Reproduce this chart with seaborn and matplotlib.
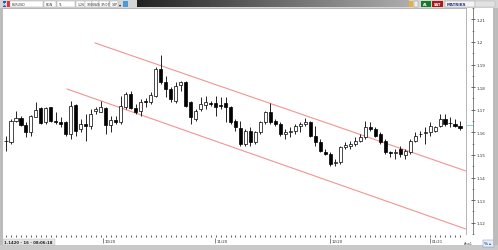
import numpy as np
import pandas as pd
import matplotlib
matplotlib.use("Agg")
import matplotlib.pyplot as plt
from matplotlib.patches import Rectangle
import seaborn as sns

# ---------------- data ----------------
opens = [1.1575, 1.1572, 1.1657, 1.1669, 1.1641, 1.1613, 1.1674, 1.1710, 1.1653, 1.1714,
         1.1658, 1.1654, 1.1653, 1.1604, 1.1722, 1.1624, 1.1645, 1.1635, 1.1699, 1.1695,
         1.1710, 1.1641, 1.1662, 1.1652, 1.1713, 1.1767, 1.1709, 1.1699, 1.1740, 1.1733,
         1.1760, 1.1869, 1.1815, 1.1787, 1.1740, 1.1805, 1.1815, 1.1733, 1.1665, 1.1706,
         1.1723, 1.1729, 1.1729, 1.1722, 1.1729, 1.1713, 1.1658, 1.1628, 1.1563, 1.1617,
         1.1570, 1.1611, 1.1652, 1.1692, 1.1658, 1.1645, 1.1604, 1.1611, 1.1617, 1.1638,
         1.1645, 1.1652, 1.1597, 1.1570, 1.1532, 1.1522, 1.1487, 1.1488, 1.1550, 1.1556,
         1.1563, 1.1576, 1.1590, 1.1631, 1.1624, 1.1604, 1.1576, 1.1530, 1.1528, 1.1543,
         1.1518, 1.1529, 1.1576, 1.1603, 1.1610, 1.1611, 1.1617, 1.1638, 1.1665, 1.1650,
         1.1645, 1.1638]
highs = [1.1596, 1.1665, 1.1698, 1.1677, 1.1653, 1.1681, 1.1735, 1.1714, 1.1714, 1.1716,
         1.1694, 1.1673, 1.1657, 1.1740, 1.1726, 1.1665, 1.1685, 1.1706, 1.1714, 1.1740,
         1.1714, 1.1678, 1.1678, 1.1760, 1.1774, 1.1780, 1.1726, 1.1747, 1.1751, 1.1776,
         1.1877, 1.1926, 1.1842, 1.1796, 1.1816, 1.1821, 1.1819, 1.1740, 1.1706, 1.1755,
         1.1760, 1.1740, 1.1760, 1.1755, 1.1755, 1.1719, 1.1665, 1.1658, 1.1624, 1.1631,
         1.1617, 1.1658, 1.1699, 1.1730, 1.1665, 1.1652, 1.1624, 1.1631, 1.1645, 1.1652,
         1.1669, 1.1658, 1.1638, 1.1583, 1.1543, 1.1529, 1.1502, 1.1556, 1.1570, 1.1576,
         1.1590, 1.1604, 1.1658, 1.1652, 1.1631, 1.1611, 1.1583, 1.1536, 1.1543, 1.1556,
         1.1543, 1.1583, 1.1611, 1.1617, 1.1631, 1.1652, 1.1638, 1.1685, 1.1685, 1.1672,
         1.1665, 1.1657]
lows = [1.1534, 1.1563, 1.1653, 1.1636, 1.1592, 1.1596, 1.1673, 1.1645, 1.1645, 1.1653,
        1.1645, 1.1632, 1.1596, 1.1583, 1.1597, 1.1612, 1.1576, 1.1624, 1.1685, 1.1692,
        1.1604, 1.1612, 1.1645, 1.1645, 1.1706, 1.1706, 1.1685, 1.1678, 1.1714, 1.1726,
        1.1755, 1.1808, 1.1754, 1.1735, 1.1730, 1.1780, 1.1713, 1.1645, 1.1658, 1.1698,
        1.1706, 1.1719, 1.1678, 1.1706, 1.1652, 1.1645, 1.1617, 1.1556, 1.1556, 1.1556,
        1.1563, 1.1604, 1.1645, 1.1645, 1.1638, 1.1597, 1.1583, 1.1590, 1.1604, 1.1611,
        1.1638, 1.1590, 1.1556, 1.1529, 1.1518, 1.1474, 1.1474, 1.1481, 1.1543, 1.1543,
        1.1556, 1.1570, 1.1583, 1.1617, 1.1590, 1.1563, 1.1522, 1.1509, 1.1502, 1.1509,
        1.1502, 1.1522, 1.1570, 1.1590, 1.1563, 1.1597, 1.1611, 1.1631, 1.1638, 1.1631,
        1.1631, 1.1620]
closes = [1.1577, 1.1658, 1.1669, 1.1641, 1.1613, 1.1677, 1.1702, 1.1649, 1.1710, 1.1657,
          1.1652, 1.1645, 1.1604, 1.1719, 1.1617, 1.1645, 1.1638, 1.1685, 1.1706, 1.1714,
          1.1641, 1.1662, 1.1652, 1.1719, 1.1767, 1.1709, 1.1695, 1.1736, 1.1733, 1.1763,
          1.1869, 1.1815, 1.1787, 1.1747, 1.1801, 1.1815, 1.1719, 1.1672, 1.1699, 1.1726,
          1.1733, 1.1726, 1.1715, 1.1718, 1.1713, 1.1652, 1.1631, 1.1563, 1.1617, 1.1570,
          1.1611, 1.1652, 1.1692, 1.1652, 1.1645, 1.1604, 1.1613, 1.1617, 1.1635, 1.1645,
          1.1652, 1.1597, 1.1570, 1.1536, 1.1522, 1.1481, 1.1490, 1.1550, 1.1559, 1.1563,
          1.1576, 1.1590, 1.1631, 1.1624, 1.1597, 1.1570, 1.1529, 1.1526, 1.1530, 1.1522,
          1.1534, 1.1576, 1.1597, 1.1605, 1.1612, 1.1638, 1.1631, 1.1665, 1.1645, 1.1647,
          1.1638, 1.1627]

price_ticks = [1.21, 1.20, 1.19, 1.18, 1.17, 1.16, 1.15, 1.14, 1.13, 1.12]
price_labels = ["1.21", "1.2", "1.19", "1.18", "1.17", "1.16", "1.15", "1.14", "1.13", "1.12"]
date_label_idx = [19.4, 41.9, 64.9, 85.0]
date_labels = ["10/20", "11/20", "12/20", "01/21"]

upper_channel_x = [17.8, 92.2]
upper_channel_y = [1.1976, 1.1453]
lower_channel_x = [12.2, 92.2]
lower_channel_y = [1.1788, 1.1216]
last_price = 1.1631

# ---------------- figure ----------------
sns.set_style("white")
plt.rcParams['font.family'] = ['DejaVu Sans']
W, H = 498, 251
fig = plt.figure(figsize=(W / 100, H / 100), dpi=100)
fig.patch.set_facecolor('#c9c9c9')


def rect(x0, y0, x1, y1, z=4, **kw):
    fig.patches.append(Rectangle((x0 / W, 1 - y1 / H), (x1 - x0) / W, (y1 - y0) / H,
                                 transform=fig.transFigure, zorder=z, **kw))


def ftext(x, y, s, **kw):
    fig.text(x / W, 1 - y / H, s, zorder=6, **kw)


# background areas (below axes)
rect(3, 9, 493, 246, z=-5, facecolor='white', edgecolor='none')
rect(0, 0, 498, 9, z=-5, facecolor='#d6d6d6', edgecolor='none')

# main chart axes
L, R, T, B = 3, 466, 9, 235
ax = fig.add_axes([L / W, 1 - B / H, (R - L) / W, (B - T) / H])
ax.set_zorder(2)
ax.set_facecolor('white')

df = pd.DataFrame({"o": opens, "h": highs, "l": lows, "c": closes})
df["x"] = np.arange(len(df))
df["up"] = df["c"] >= df["o"]
df["bot"] = df[["o", "c"]].min(axis=1)
df["hgt"] = (df["c"] - df["o"]).abs()

ax.vlines(df["x"], df["l"], df["h"], color='black', lw=0.6, zorder=2)
ax.bar(df["x"], df["hgt"], bottom=df["bot"], width=0.62,
       color=np.where(df["up"], 'white', 'black'), edgecolor='black', lw=0.5, zorder=3)

sns.lineplot(x=upper_channel_x, y=upper_channel_y, ax=ax, color='#f29494', lw=0.8, zorder=1)
sns.lineplot(x=lower_channel_x, y=lower_channel_y, ax=ax, color='#f29494', lw=0.8, zorder=1)

ax.set_xlim(-0.6, 92.2)
ax.set_ylim(1.11959, 1.21184)
ax.set_xticks([])
ax.set_yticks([])
for side, sp in ax.spines.items():
    sp.set_color('#a8a8a8')
    sp.set_linewidth(0.6)
ax.spines['left'].set_visible(False)
ax.spines['bottom'].set_visible(False)

# right price scale
sax = fig.add_axes([452.7 / W, 1 - B / H, 20 / W, (B - T) / H])
sax.set_zorder(3)
sax.patch.set_alpha(0)
sax.set_ylim(ax.get_ylim())
sax.set_xlim(0, 1)
sax.set_xticks([])
for side in ['left', 'top', 'bottom']:
    sax.spines[side].set_visible(False)
sax.spines['right'].set_color('#555555')
sax.spines['right'].set_linewidth(0.5)
sax.yaxis.tick_right()
sax.set_yticks(price_ticks)
sax.set_yticklabels(price_labels)
sax.set_yticks(np.arange(1.115, 1.215, 0.01), minor=True)
sax.tick_params(axis='y', which='major', direction='inout', length=3, width=0.5,
                labelsize=3, pad=1.5, colors='#333333')
sax.tick_params(axis='y', which='minor', direction='inout', length=2, width=0.4, colors='#555555')
sax.hlines(last_price, 0.66, 1.0, color='#5fd3d3', lw=0.6)

# bottom time axis
tax = fig.add_axes([L / W, 1 - 246 / H, (R - L) / W, 11 / H])
tax.set_zorder(3)
tax.patch.set_alpha(0)
tax.set_xlim(ax.get_xlim())
tax.set_ylim(0, 11)
tax.axis('off')
tax.vlines(df["x"], 8.2, 9.6, color='#222222', lw=0.5)
for xi, lab in zip(date_label_idx, date_labels):
    tax.vlines(xi, 2.2, 7.0, color='#555555', lw=0.5)
    tax.text(xi + 0.3, 4.2, lab, fontsize=2.8, color='#333333', va='center', ha='left')
rect(3, 240, 55, 246, facecolor='#e6e6e6', edgecolor='#bdbdbd', lw=0.3)
ftext(4, 243.3, "1.1420 - 16 - 08:06:18", fontsize=2.8, color='#202020',
      fontweight='bold', va='center', ha='left')
ftext(464, 244, "Ana1", fontsize=2.5, color='#444444', va='center', ha='left')
rect(483, 241, 494, 248, facecolor='#e8eef8', edgecolor='#6688bb', lw=0.3)
ftext(484, 244.5, "%", fontsize=3, color='#2255aa', va='center', ha='left', fontweight='bold')
ftext(488.5, 244.5, "\u25b8\u25b8", fontsize=2.5, color='#2255aa', va='center', ha='left')

# top toolbar
gax = fig.add_axes([137 / W, 1 - 8 / H, (408 - 137) / W, 7 / H])
gax.set_zorder(3)
gax.imshow(np.linspace(0, 1, 256)[None, :], aspect='auto', cmap='gray',
           vmin=-0.25, vmax=1.6, extent=[0, 1, 0, 1])
gax.axis('off')
rect(2.5, 1.5, 6, 7.5, facecolor='#3355aa', edgecolor='none')
ftext(3, 4.6, "M", fontsize=2.4, color='white', va='center', ha='left', fontweight='bold')
rect(6.5, 1.5, 10, 7.5, facecolor='#dd3333', edgecolor='none')
boxes = [(10, 43, "EURUSD"), (44, 56, "BGN"), (57, 75, "TL"), (76, 85, "1.26"),
         (85, 92, "1006"), (92, 99, "SVB"), (99, 109, "37/07"), (110, 118, "14P")]
for x0, x1, s in boxes:
    rect(x0, 1.5, x1, 7.5, facecolor='white', edgecolor='#a0a0a0', lw=0.3)
    ftext(x0 + 1.5, 4.6, s, fontsize=2.3, color='#333333', va='center', ha='left')
ftext(119, 4.6, "\u25be", fontsize=3, color='#222222', va='center', ha='left')
rect(123, 1.5, 128, 7.5, facecolor='#4a9ad8', edgecolor='none')
rect(409, 1.5, 413, 7.5, facecolor='#e8b040', edgecolor='none')
rect(414, 1.5, 418, 7.5, facecolor='#eeeeee', edgecolor='#888888', lw=0.3)
rect(420.5, 1.5, 431, 7.5, facecolor='#1a7a2a', edgecolor='none')
ftext(422.5, 4.6, "AL", fontsize=2.5, color='white', va='center', ha='left', fontweight='bold')
rect(432, 1.5, 443, 7.5, facecolor='#aa1a1a', edgecolor='none')
ftext(433.5, 4.6, "SAT", fontsize=2.5, color='white', va='center', ha='left', fontweight='bold')
rect(444.5, 1.5, 475, 7.5, facecolor='#f4f4f4', edgecolor='#999999', lw=0.3)
ftext(447, 4.6, "MATRIKS", fontsize=2.8, color='#22308a', va='center', ha='left', fontweight='bold')
rect(475, 1.5, 495, 7.5, facecolor='#e2e2e2', edgecolor='#b0b0b0', lw=0.3)

# window frame lines
rect(493, 9, 498, 246, facecolor='#bcbcbc', edgecolor='none')
rect(0, 9, 2.5, 246, facecolor='#bcbcbc', edgecolor='none')

fig.savefig("out.png", dpi=100, facecolor=fig.get_facecolor())
